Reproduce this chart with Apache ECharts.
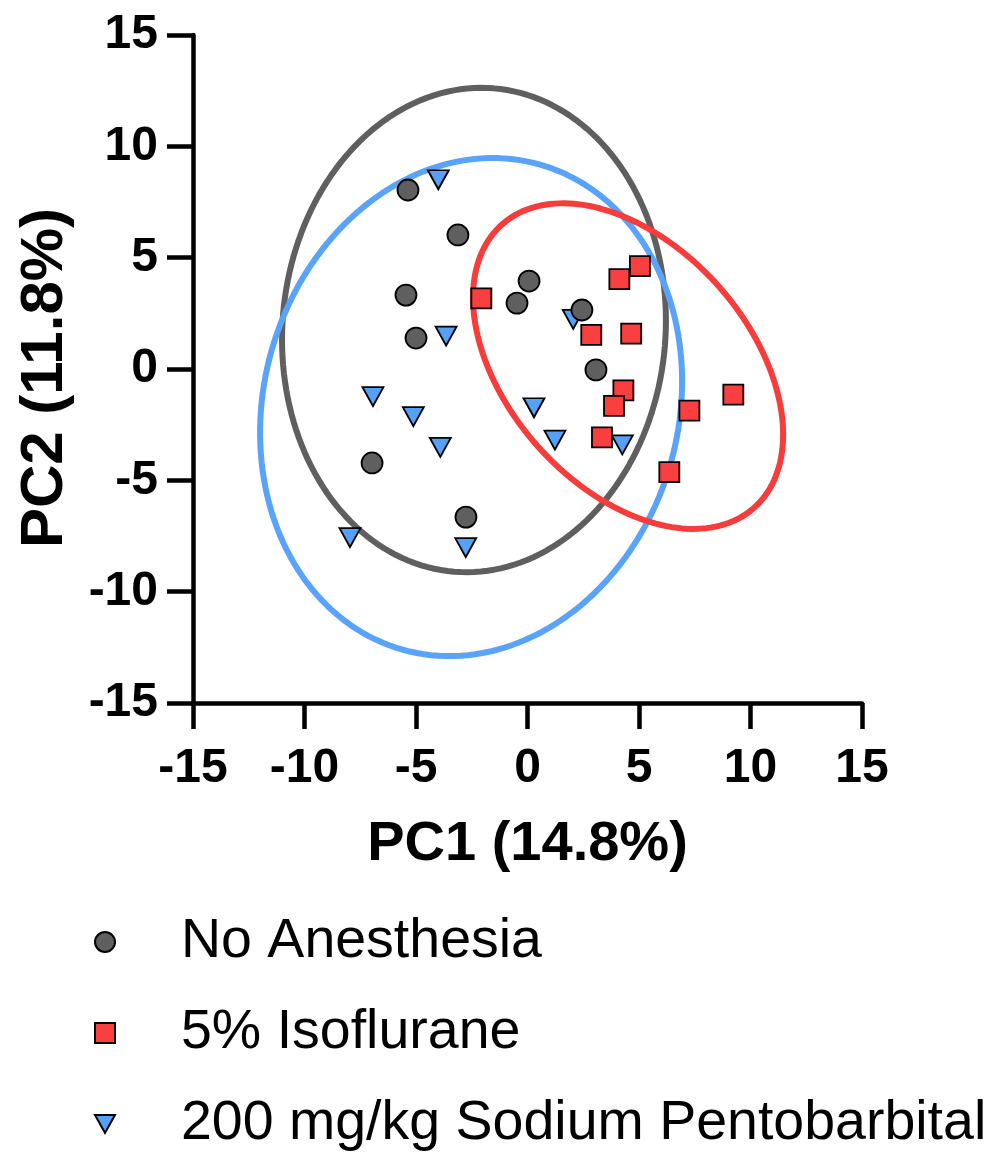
<!DOCTYPE html>
<html>
<head>
<meta charset="utf-8">
<script src="https://cdn.jsdelivr.net/npm/echarts@6/dist/echarts.min.js"></script>
<style>
html,body{margin:0;padding:0;background:#fff;}
#chart{width:994px;height:1155px;}
</style>
</head>
<body>
<div id="chart"></div>
<script>
// ---- data ----
var seriesNames = ['No Anesthesia', '5% Isoflurane', '200 mg/kg Sodium Pentobarbital'];

var noAnesthesiaX = [-5.36, -3.12, -5.45, -5.00, 0.07, -0.47, 2.44, 3.07, -6.97, -2.76];
var noAnesthesiaY = [8.04, 6.02, 3.32, 1.39, 3.95, 2.96, 2.65, -0.04, -4.22, -6.65];

var isofluraneX = [-2.07, 5.04, 4.12, 2.86, 4.65, 4.30, 3.88, 9.23, 7.26, 3.34, 6.36];
var isofluraneY = [3.17, 4.62, 4.04, 1.53, 1.59, -0.96, -1.66, -1.15, -1.87, -3.07, -4.63];

var pentobarbitalX = [-4.00, -3.65, 2.05, 0.29, 1.23, 4.25, -6.93, -5.12, -3.91, -7.96, -2.77];
var pentobarbitalY = [8.50, 1.48, 2.23, -1.74, -3.19, -3.41, -1.24, -2.14, -3.52, -7.57, -8.02];

// confidence ellipses: [centerX, centerY, semiMajor, semiMinor, major-axis angle (deg)]
var noAnesthesiaEllipse = [-2.40, 1.75, 10.89, 8.59, 85.3];
var isofluraneEllipse = [4.51, 0.13, 8.51, 5.42, -48.4];
var pentobarbitalEllipse = [-2.53, -1.71, 11.32, 9.30, 74.3];

var axisTicks = [-15, -10, -5, 0, 5, 10, 15];
var xAxisTitle = 'PC1 (14.8%)';
var yAxisTitle = 'PC2 (11.8%)';

// ---- helpers ----
function pairs(xs, ys) {
  return xs.map(function (x, i) { return [x, ys[i]]; });
}
function ellipsePath(p) {
  var cx = p[0], cy = p[1], a = p[2], b = p[3], phi = p[4] * Math.PI / 180;
  var pts = [];
  var n = 180;
  for (var i = 0; i <= n; i++) {
    var t = 2 * Math.PI * i / n;
    var ex = a * Math.cos(t), ey = b * Math.sin(t);
    pts.push([cx + ex * Math.cos(phi) - ey * Math.sin(phi),
              cy + ex * Math.sin(phi) + ey * Math.cos(phi)]);
  }
  return pts;
}

var GRAY = '#5f5f5f', RED = '#f93f3f', BLUE = '#56a1f8';
var RED_LINE = '#f73c3c', BLUE_LINE = '#59a3fa';
var FONT = '"Liberation Sans", Arial, Helvetica, sans-serif';
var triPath = 'path://M0,0L21,0L10.5,19Z';

function ellipseSeries(name, p, color) {
  return {
    name: name, type: 'line', data: ellipsePath(p),
    showSymbol: false, symbol: 'none', smooth: false, silent: true,
    lineStyle: { color: color, width: 6 }, z: 1, animation: false
  };
}

var chart = echarts.init(document.getElementById('chart'), null, { renderer: 'canvas' });
var option = {
  backgroundColor: '#ffffff',
  animation: false,
  grid: { left: 193, right: 132, top: 35, bottom: 452, containLabel: false },
  xAxis: {
    type: 'value', min: -15, max: 15, interval: 5,
    name: xAxisTitle, nameLocation: 'middle', nameGap: 114,
    nameTextStyle: { fontFamily: FONT, fontSize: 56, fontWeight: 'bold', color: '#000' },
    axisLine: { show: true, onZero: false, lineStyle: { color: '#000', width: 4.5 } },
    axisTick: { show: true, inside: false, length: 26, lineStyle: { color: '#000', width: 4.5 } },
    axisLabel: { margin: 42, fontFamily: FONT, fontSize: 48, fontWeight: 'bold', color: '#000',
      formatter: function (v) { return axisTicks.indexOf(v) >= 0 ? String(v) : ''; } },
    splitLine: { show: false }
  },
  yAxis: {
    type: 'value', min: -15, max: 15, interval: 5,
    name: yAxisTitle, nameLocation: 'middle', nameGap: 118, nameRotate: 90,
    nameTextStyle: { fontFamily: FONT, fontSize: 60, fontWeight: 'bold', color: '#000', padding: [0, 18, 0, 0] },
    axisLine: { show: true, onZero: false, lineStyle: { color: '#000', width: 4.5 } },
    axisTick: { show: true, inside: false, length: 26, lineStyle: { color: '#000', width: 4.5 } },
    axisLabel: { margin: 35, fontFamily: FONT, fontSize: 48, fontWeight: 'bold', color: '#000',
      formatter: function (v) { return axisTicks.indexOf(v) >= 0 ? String(v) : ''; } },
    splitLine: { show: false }
  },
  legend: {
    orient: 'vertical', left: 94, top: 913, bottom: 0, padding: 0,
    itemWidth: 20, itemHeight: 20, itemGap: 33,
    data: seriesNames,
    selectedMode: false,
    textStyle: { fontFamily: FONT, fontSize: 55.5, color: '#000', lineHeight: 58, padding: [0, 0, 0, 61] }
  },
  series: [
    ellipseSeries('No Anesthesia ellipse', noAnesthesiaEllipse, GRAY),
    ellipseSeries('Pentobarbital ellipse', pentobarbitalEllipse, BLUE_LINE),
    ellipseSeries('Isoflurane ellipse', isofluraneEllipse, RED_LINE),
    {
      name: seriesNames[2], type: 'scatter', data: pairs(pentobarbitalX, pentobarbitalY),
      symbol: triPath, symbolSize: [21, 19], z: 3,
      itemStyle: { color: BLUE, borderColor: '#000', borderWidth: 1.8, opacity: 1 }
    },
    {
      name: seriesNames[1], type: 'scatter', data: pairs(isofluraneX, isofluraneY),
      symbol: 'rect', symbolSize: 20, z: 4,
      itemStyle: { color: RED, borderColor: '#000', borderWidth: 1.8, opacity: 1 }
    },
    {
      name: seriesNames[0], type: 'scatter', data: pairs(noAnesthesiaX, noAnesthesiaY),
      symbol: 'circle', symbolSize: 21, z: 5,
      itemStyle: { color: GRAY, borderColor: '#000', borderWidth: 1.8, opacity: 1 }
    }
  ]
};
chart.setOption(option);
</script>
</body>
</html>
